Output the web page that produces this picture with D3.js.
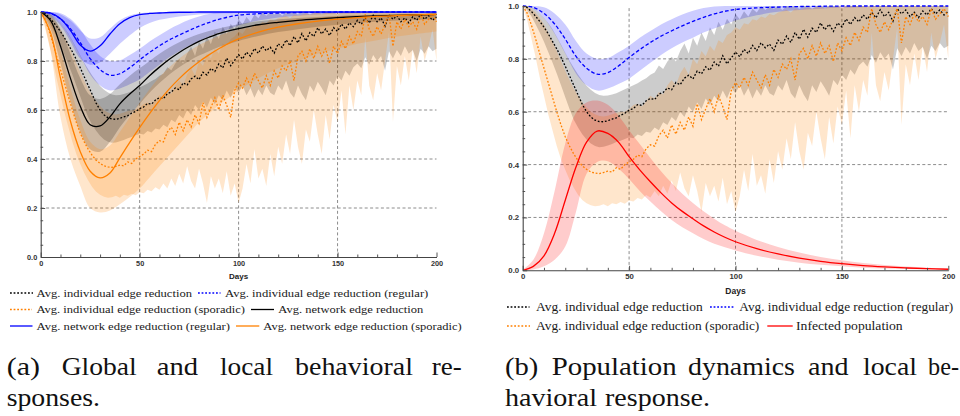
<!DOCTYPE html>
<html><head><meta charset="utf-8">
<script src="https://cdn.jsdelivr.net/npm/d3@7"></script>
<style>body{margin:0;background:#fff}svg{display:block}</style>
</head><body>
<svg id="c" width="960" height="416"></svg>
<script>
// ---------- DATA ----------
const smoothDays = [0,5,10,15,20,25,30,35,40,45,50,55,60,65,70,75,80,85,90,95,100,110,120,130,140,150,160,170,180,190,200];
const noisyDays = d3.range(0, 201, 2);

// individual edge reduction (regular) - blue dashed, with band
const indivReg   = [1.0,0.995,0.972,0.932,0.875,0.81,0.765,0.742,0.748,0.773,0.805,0.835,0.862,0.886,0.906,0.925,0.942,0.957,0.97,0.98,0.987,0.993,0.996,0.998,0.999,1.0,1.0,1.0,1.0,1.0,1.0];
const indivRegHi = [1.0,1.0,0.995,0.972,0.93,0.868,0.82,0.80,0.803,0.825,0.85,0.88,0.905,0.93,0.95,0.968,0.982,0.992,0.998,1.0,1.0,1.0,1.0,1.0,1.0,1.0,1.0,1.0,1.0,1.0,1.0];
const indivRegLo = [1.0,0.99,0.955,0.895,0.82,0.745,0.70,0.68,0.688,0.705,0.725,0.755,0.785,0.815,0.84,0.862,0.88,0.9,0.915,0.93,0.945,0.965,0.978,0.985,0.99,0.993,0.995,0.996,0.997,0.998,0.998];

// network edge reduction - black solid
const net   = [1.0,0.965,0.86,0.73,0.615,0.54,0.535,0.572,0.625,0.665,0.70,0.74,0.775,0.807,0.835,0.859,0.88,0.897,0.912,0.923,0.932,0.948,0.958,0.966,0.972,0.977,0.981,0.984,0.986,0.988,0.99];
const netHi = [1.0,0.99,0.93,0.83,0.73,0.66,0.645,0.665,0.705,0.74,0.77,0.80,0.83,0.855,0.877,0.895,0.91,0.922,0.933,0.942,0.95,0.962,0.97,0.976,0.98,0.984,0.987,0.989,0.99,0.992,0.993];
const netLo = [1.0,0.93,0.79,0.635,0.51,0.44,0.43,0.47,0.53,0.58,0.625,0.67,0.71,0.745,0.775,0.80,0.822,0.84,0.857,0.87,0.882,0.902,0.918,0.93,0.94,0.948,0.955,0.96,0.965,0.968,0.97];

// network edge reduction (regular) - blue solid
const netReg   = [1.0,0.995,0.972,0.925,0.865,0.84,0.862,0.91,0.952,0.977,0.989,0.994,0.996,0.998,0.999,0.999,1.0,1.0,1.0,1.0,1.0,1.0,1.0,1.0,1.0,1.0,1.0,1.0,1.0,1.0,1.0];
const netRegHi = [1.0,1.0,0.99,0.965,0.925,0.892,0.897,0.932,0.966,0.986,0.995,0.998,1.0,1.0,1.0,1.0,1.0,1.0,1.0,1.0,1.0,1.0,1.0,1.0,1.0,1.0,1.0,1.0,1.0,1.0,1.0];
const netRegLo = [1.0,0.985,0.945,0.88,0.81,0.785,0.795,0.83,0.87,0.905,0.935,0.955,0.968,0.976,0.982,0.986,0.99,0.992,0.994,0.995,0.996,0.997,0.998,0.999,0.999,1.0,1.0,1.0,1.0,1.0,1.0];

// network edge reduction (sporadic) - orange solid
const netSpor   = [1.0,0.915,0.73,0.555,0.43,0.35,0.323,0.343,0.405,0.468,0.528,0.585,0.638,0.686,0.728,0.765,0.797,0.825,0.85,0.872,0.89,0.918,0.938,0.952,0.963,0.971,0.977,0.982,0.985,0.988,0.99];
const netSporHi = [1.0,0.97,0.84,0.69,0.56,0.47,0.44,0.455,0.51,0.57,0.63,0.685,0.735,0.775,0.81,0.84,0.865,0.885,0.903,0.918,0.93,0.95,0.963,0.972,0.978,0.983,0.987,0.99,0.992,0.993,0.994];
const netSporLo = [1.0,0.84,0.57,0.40,0.29,0.20,0.182,0.19,0.215,0.245,0.28,0.325,0.37,0.415,0.46,0.505,0.55,0.585,0.62,0.65,0.68,0.73,0.77,0.80,0.83,0.85,0.87,0.885,0.90,0.91,0.92];

// infected population - red
const infected = [0.0,0.015,0.055,0.14,0.265,0.39,0.485,0.527,0.518,0.485,0.43,0.38,0.335,0.293,0.255,0.223,0.195,0.168,0.145,0.125,0.108,0.082,0.062,0.046,0.034,0.025,0.018,0.013,0.009,0.006,0.004];
const infHi    = [0.002,0.04,0.14,0.30,0.48,0.595,0.635,0.642,0.626,0.585,0.53,0.478,0.425,0.375,0.33,0.29,0.255,0.223,0.195,0.17,0.15,0.115,0.088,0.067,0.05,0.038,0.028,0.02,0.014,0.01,0.007];
const infLo    = [0.0,0.003,0.015,0.04,0.09,0.22,0.365,0.41,0.413,0.385,0.345,0.30,0.26,0.223,0.19,0.163,0.14,0.118,0.10,0.087,0.075,0.055,0.04,0.029,0.021,0.015,0.01,0.007,0.005,0.003,0.002];

// individual edge reduction - black dotted (days 0..200 step 2)
const indiv = [
 1.0,0.995,0.98,0.962,0.942,0.92,0.895,0.866,0.838,0.806,
 0.772,0.736,0.70,0.664,0.628,0.60,0.58,0.568,0.563,0.562,
 0.566,0.572,0.577,0.587,0.594,0.606,0.612,0.627,0.624,0.641,
 0.65,0.646,0.667,0.673,0.69,0.683,0.711,0.702,0.727,0.738,
 0.724,0.754,0.743,0.77,0.757,0.788,0.772,0.812,0.781,0.803,
 0.826,0.808,0.836,0.82,0.851,0.831,0.861,0.842,0.856,0.832,
 0.871,0.855,0.886,0.862,0.90,0.874,0.912,0.882,0.916,0.90,
 0.936,0.91,0.931,0.904,0.936,0.921,0.951,0.93,0.956,0.94,
 0.966,0.95,0.976,0.955,0.986,0.96,0.976,0.942,0.99,0.97,
 0.985,0.96,0.976,0.956,0.981,0.966,0.99,0.97,0.985,0.966,
 0.98];
const indivHi = [
 1.0,1.0,0.996,0.987,0.972,0.956,0.936,0.912,0.884,0.854,
 0.823,0.793,0.766,0.741,0.718,0.698,0.683,0.671,0.663,0.66,
 0.661,0.665,0.67,0.677,0.685,0.693,0.70,0.708,0.718,0.727,
 0.74,0.748,0.775,0.762,0.79,0.808,0.79,0.83,0.858,0.82,
 0.88,0.85,0.90,0.868,0.92,0.89,0.94,0.91,0.952,0.93,
 0.97,0.95,0.98,0.96,0.99,0.975,1.0,0.985,1.0,0.99,
 1.0,0.985,1.0,0.995,1.0,0.99,1.0,1.0,0.99,1.0,
 1.0,0.995,1.0,1.0,1.0,0.99,1.0,1.0,1.0,1.0,
 1.0,0.995,1.0,1.0,1.0,1.0,1.0,1.0,1.0,1.0,
 1.0,1.0,1.0,1.0,1.0,1.0,1.0,1.0,1.0,1.0,
 1.0];
const indivLo = [
 1.0,0.986,0.962,0.932,0.90,0.865,0.826,0.786,0.745,0.70,
 0.655,0.61,0.57,0.54,0.515,0.495,0.48,0.47,0.466,0.467,
 0.472,0.478,0.485,0.49,0.497,0.503,0.50,0.514,0.508,0.524,
 0.52,0.54,0.53,0.56,0.55,0.58,0.565,0.60,0.58,0.62,
 0.60,0.635,0.61,0.65,0.625,0.66,0.64,0.68,0.65,0.69,
 0.67,0.70,0.66,0.69,0.65,0.685,0.66,0.70,0.67,0.66,
 0.70,0.68,0.72,0.67,0.65,0.70,0.665,0.64,0.70,0.675,
 0.715,0.69,0.66,0.72,0.70,0.74,0.72,0.76,0.74,0.775,
 0.79,0.77,0.815,0.785,0.825,0.80,0.82,0.76,0.84,0.81,
 0.845,0.82,0.86,0.83,0.845,0.80,0.85,0.83,0.86,0.84,
 0.85];

// individual edge reduction (sporadic) - orange dotted
const spor = [
 1.0,0.975,0.93,0.878,0.82,0.765,0.71,0.655,0.60,0.55,
 0.505,0.47,0.44,0.415,0.395,0.382,0.372,0.368,0.366,0.37,
 0.375,0.372,0.388,0.382,0.40,0.41,0.42,0.436,0.43,0.46,
 0.475,0.47,0.51,0.53,0.50,0.55,0.515,0.56,0.53,0.58,
 0.545,0.63,0.57,0.61,0.65,0.60,0.66,0.62,0.57,0.68,
 0.71,0.69,0.73,0.70,0.75,0.72,0.69,0.74,0.70,0.76,
 0.73,0.78,0.76,0.80,0.72,0.82,0.84,0.80,0.85,0.81,
 0.86,0.82,0.85,0.79,0.86,0.83,0.88,0.85,0.90,0.87,
 0.92,0.90,0.99,0.93,0.90,0.94,0.91,0.95,0.99,0.86,
 0.96,0.93,0.97,0.94,0.96,0.93,0.99,0.95,0.97,0.99,
 0.96];
const sporHi = [
 1.0,0.998,0.99,0.975,0.955,0.93,0.90,0.866,0.83,0.792,
 0.755,0.72,0.688,0.66,0.636,0.616,0.60,0.59,0.584,0.582,
 0.585,0.59,0.596,0.60,0.60,0.61,0.625,0.63,0.62,0.64,
 0.66,0.65,0.675,0.665,0.70,0.72,0.70,0.745,0.77,0.74,
 0.80,0.78,0.83,0.81,0.85,0.83,0.87,0.86,0.89,0.90,
 0.92,0.91,0.935,0.93,0.95,0.945,0.96,0.955,0.97,0.965,
 0.975,0.98,0.985,0.975,0.99,0.985,0.99,0.995,0.99,0.995,
 1.0,0.99,1.0,0.995,1.0,1.0,1.0,1.0,1.0,1.0,
 1.0,1.0,1.0,1.0,1.0,1.0,1.0,1.0,1.0,1.0,
 1.0,1.0,1.0,1.0,1.0,1.0,1.0,1.0,1.0,1.0,
 1.0];
const sporLo = [
 1.0,0.95,0.88,0.808,0.73,0.66,0.59,0.53,0.47,0.42,
 0.38,0.343,0.312,0.286,0.266,0.254,0.246,0.242,0.244,0.25,
 0.242,0.254,0.25,0.258,0.252,0.264,0.26,0.274,0.268,0.285,
 0.275,0.30,0.28,0.32,0.29,0.34,0.30,0.37,0.31,0.28,
 0.36,0.30,0.22,0.33,0.28,0.32,0.26,0.35,0.25,0.30,
 0.22,0.28,0.38,0.30,0.44,0.32,0.36,0.29,0.42,0.33,
 0.45,0.38,0.50,0.42,0.56,0.45,0.38,0.52,0.47,0.60,
 0.50,0.42,0.58,0.48,0.62,0.55,0.68,0.50,0.70,0.60,
 0.72,0.66,0.90,0.70,0.64,0.75,0.68,0.80,0.92,0.55,
 0.78,0.70,0.82,0.72,0.85,0.75,0.90,0.80,0.86,0.93,
 0.80];

const yTicks = [0, 0.2, 0.4, 0.6, 0.8, 1.0];
const xTicks = [0, 50, 100, 150, 200];

// ---------- STYLES ----------
const C = {black:'#000000', blue:'#0000ff', orange:'#ff8000', red:'#ff0000'};
const DOT = '1.8,1.8', DASH = '3.6,2.2';
const SMOOTH = d3.curveCatmullRom.alpha(0.5);

const svg = d3.select('#c');
const defs = svg.append('defs');

function drawPanel(cfg) {
  const x = d3.scaleLinear().domain([0, 200]).range([cfg.x0, cfg.x1]);
  const y = d3.scaleLinear().domain([0, 1]).range([cfg.y0, cfg.y1]);
  const g = svg.append('g');

  defs.append('clipPath').attr('id', 'clip' + cfg.name)
    .append('rect').attr('x', cfg.x0).attr('y', cfg.y1 - 2)
    .attr('width', cfg.x1 - cfg.x0 + 1).attr('height', cfg.y0 - cfg.y1 + 2);

  // grid
  const grid = g.append('g').attr('stroke', '#808080').attr('stroke-width', 0.9).attr('stroke-dasharray', '3,2.4');
  [0.2, 0.4, 0.6, 0.8].forEach(v => grid.append('line').attr('x1', cfg.x0).attr('x2', cfg.x1).attr('y1', y(v)).attr('y2', y(v)));
  [50, 100, 150].forEach(v => grid.append('line').attr('y1', cfg.y0).attr('y2', cfg.y1).attr('x1', x(v)).attr('x2', x(v)));

  const plot = g.append('g').attr('clip-path', `url(#clip${cfg.name})`);
  cfg.bands.forEach(b => {
    const area = d3.area()
      .x((d, i) => x(b.days[i]))
      .y0((d, i) => y(b.lo[i]))
      .y1((d, i) => y(b.hi[i]))
      .curve(b.smooth ? SMOOTH : d3.curveLinear);
    plot.append('path').datum(b.lo).attr('d', area)
      .attr('fill', b.color).attr('fill-opacity', 0.2).attr('stroke', 'none');
  });
  cfg.lines.forEach(l => {
    const line = d3.line()
      .x((d, i) => x(l.days[i]))
      .y(d => y(d))
      .curve(l.smooth ? SMOOTH : d3.curveLinear);
    plot.append('path').datum(l.values).attr('d', line)
      .attr('fill', 'none').attr('stroke', l.color).attr('stroke-width', l.w || 1.3)
      .attr('stroke-dasharray', l.dash || null);
  });

  // axes
  const fs = cfg.tickFont;
  const minorY = d3.range(0, 1.0001, 0.05).filter(v => Math.abs(v * 5 - Math.round(v * 5)) > 1e-6);
  const minorX = d3.range(0, 201, 10).filter(v => v % 50 !== 0);
  const ay = g.append('g').attr('transform', `translate(${cfg.x0},0)`)
    .call(d3.axisLeft(y).tickValues(yTicks).tickFormat(d3.format('.1f')).tickSizeInner(-4.5).tickSizeOuter(0).tickPadding(3.5));
  g.append('g').attr('transform', `translate(${cfg.x0},0)`)
    .call(d3.axisLeft(y).tickValues(minorY).tickFormat('').tickSizeInner(-2.5).tickSizeOuter(0))
    .select('.domain').remove();
  const ax = g.append('g').attr('transform', `translate(0,${cfg.y0})`)
    .call(d3.axisBottom(x).tickValues(xTicks).tickFormat(d3.format('d')).tickSizeInner(-4.5).tickSizeOuter(0).tickPadding(cfg.xPad));
  g.append('g').attr('transform', `translate(0,${cfg.y0})`)
    .call(d3.axisBottom(x).tickValues(minorX).tickFormat('').tickSizeInner(-2.5).tickSizeOuter(0))
    .select('.domain').remove();
  g.selectAll('.domain').attr('stroke', '#444').attr('stroke-width', 1.1);
  g.selectAll('.tick line').attr('stroke', '#444').attr('stroke-width', 0.9);
  [ay, ax].forEach(a => a.selectAll('text').attr('font-family', 'Liberation Sans, Arial, sans-serif')
    .attr('font-weight', 'bold').attr('font-size', fs).attr('fill', '#333'));

  g.append('text').attr('x', x(100)).attr('y', cfg.daysY).attr('text-anchor', 'middle')
    .attr('font-family', 'Liberation Sans, Arial, sans-serif').attr('font-weight', 'bold')
    .attr('font-size', cfg.daysFont).attr('fill', '#222').text('Days');
}

drawPanel({
  name: 'a', x0: 40.7, x1: 436.5, y0: 257, y1: 12, tickFont: 7.3, xPad: 3.5, daysY: 279, daysFont: 8,
  bands: [
    {days: noisyDays, lo: indivLo, hi: indivHi, color: C.black},
    {days: smoothDays, lo: indivRegLo, hi: indivRegHi, color: C.blue, smooth: true},
    {days: noisyDays, lo: sporLo, hi: sporHi, color: C.orange},
    {days: smoothDays, lo: netLo, hi: netHi, color: C.black, smooth: true},
    {days: smoothDays, lo: netRegLo, hi: netRegHi, color: C.blue, smooth: true},
    {days: smoothDays, lo: netSporLo, hi: netSporHi, color: C.orange, smooth: true}
  ],
  lines: [
    {days: noisyDays, values: indiv, color: C.black, dash: DOT},
    {days: smoothDays, values: indivReg, color: C.blue, dash: DASH, smooth: true},
    {days: noisyDays, values: spor, color: C.orange, dash: DOT},
    {days: smoothDays, values: net, color: C.black, smooth: true},
    {days: smoothDays, values: netReg, color: C.blue, smooth: true},
    {days: smoothDays, values: netSpor, color: C.orange, smooth: true}
  ]
});

drawPanel({
  name: 'b', x0: 522.7, x1: 948.3, y0: 270.3, y1: 6, tickFont: 7.8, xPad: 3.5, daysY: 294, daysFont: 8.5,
  bands: [
    {days: noisyDays, lo: indivLo, hi: indivHi, color: C.black},
    {days: smoothDays, lo: indivRegLo, hi: indivRegHi, color: C.blue, smooth: true},
    {days: noisyDays, lo: sporLo, hi: sporHi, color: C.orange},
    {days: smoothDays, lo: infLo, hi: infHi, color: C.red, smooth: true}
  ],
  lines: [
    {days: noisyDays, values: indiv, color: C.black, dash: DOT},
    {days: smoothDays, values: indivReg, color: C.blue, dash: DASH, smooth: true},
    {days: noisyDays, values: spor, color: C.orange, dash: DOT},
    {days: smoothDays, values: infected, color: C.red, smooth: true}
  ]
});

// ---------- LEGENDS ----------
const legendA = [
  {x1: 10, x2: 33, y: 293, color: C.black, dash: DOT, tx: 36.5, tw: 155.5, label: 'Avg. individual edge reduction'},
  {x1: 198, x2: 220.5, y: 293, color: C.blue, dash: DOT, tx: 225, tw: 203.3, label: 'Avg. individual edge reduction (regular)'},
  {x1: 10, x2: 32, y: 309.5, color: C.orange, dash: DOT, tx: 36.5, tw: 208.5, label: 'Avg. individual edge reduction (sporadic)'},
  {x1: 251, x2: 274, y: 309.5, color: C.black, tx: 278.3, tw: 145, label: 'Avg. network edge reduction'},
  {x1: 10, x2: 32.5, y: 326, color: C.blue, tx: 36.5, tw: 193.5, label: 'Avg. network edge reduction (regular)'},
  {x1: 236, x2: 259.3, y: 326, color: C.orange, tx: 263.3, tw: 198.4, label: 'Avg. network edge reduction (sporadic)'}
];
const legendB = [
  {x1: 507, x2: 529.5, y: 307, color: C.black, dash: DOT, tx: 536, tw: 166.7, label: 'Avg. individual edge reduction'},
  {x1: 710, x2: 733.5, y: 307, color: C.blue, dash: DOT, tx: 739.3, tw: 214, label: 'Avg. individual edge reduction (regular)'},
  {x1: 507, x2: 530, y: 326, color: C.orange, dash: DOT, tx: 536, tw: 223.3, label: 'Avg. individual edge reduction (sporadic)'},
  {x1: 767.3, x2: 792.7, y: 326, color: C.red, tx: 796, tw: 106.7, label: 'Infected population'}
];
function drawLegend(items, fs) {
  const lg = svg.append('g');
  items.forEach(it => {
    lg.append('line').attr('x1', it.x1).attr('x2', it.x2).attr('y1', it.y).attr('y2', it.y)
      .attr('stroke', it.color).attr('stroke-width', 1.3).attr('stroke-dasharray', it.dash || null);
    lg.append('text').attr('x', it.tx).attr('y', it.y).attr('dy', '0.32em')
      .attr('font-family', 'Liberation Serif, Times New Roman, serif').attr('font-size', fs)
      .attr('fill', '#1a1a1a').attr('textLength', it.tw).attr('lengthAdjust', 'spacingAndGlyphs')
      .text(it.label);
  });
}
drawLegend(legendA, 11);
drawLegend(legendB, 12);

// ---------- CAPTIONS ----------
const captionWords = [
  {t: '(a)', x: 6.7, w: 33.3, y: 375}, {t: 'Global', x: 61.7, w: 75, y: 375},
  {t: 'and', x: 156.7, w: 41.3, y: 375}, {t: 'local', x: 220, w: 53, y: 375},
  {t: 'behavioral', x: 295, w: 118, y: 375}, {t: 're-', x: 431.7, w: 30, y: 375},
  {t: 'sponses.', x: 6.7, w: 93.3, y: 406},
  {t: '(b)', x: 505, w: 33.3, y: 375}, {t: 'Population', x: 551.7, w: 125, y: 375},
  {t: 'dynamics', x: 688, w: 107, y: 375}, {t: 'and', x: 808, w: 40.5, y: 375},
  {t: 'local', x: 863, w: 54, y: 375}, {t: 'be-', x: 928, w: 31, y: 375},
  {t: 'havioral', x: 505, w: 92, y: 406}, {t: 'response.', x: 605, w: 105, y: 406}
];
svg.append('g').selectAll('text').data(captionWords).join('text')
  .attr('x', d => d.x).attr('y', d => d.y).attr('textLength', d => d.w)
  .attr('lengthAdjust', 'spacingAndGlyphs')
  .attr('font-family', 'Liberation Serif, Times New Roman, serif').attr('font-size', 25)
  .attr('fill', '#111').text(d => d.t);
</script>
</body></html>
